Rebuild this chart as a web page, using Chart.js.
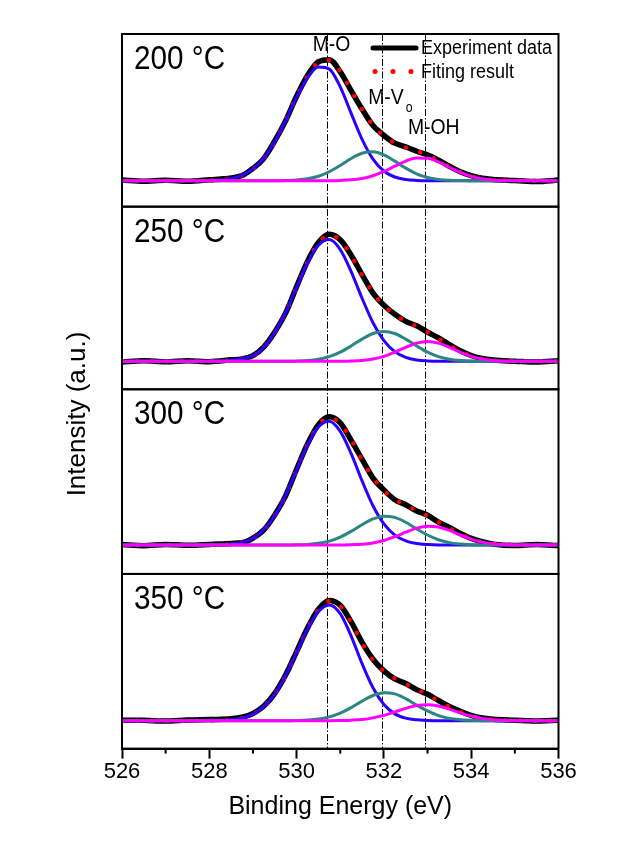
<!DOCTYPE html>
<html lang="en">
<head>
    <meta charset="UTF-8">
    <title>O 1s XPS spectra</title>
    <script src="https://cdn.jsdelivr.net/npm/chart.js"></script>
    <style>
        html, body { margin: 0; padding: 0; background: #fff; }
    </style>
</head>
<body>
    <canvas id="xps" width="617" height="841"></canvas>

    <script>
        // binding energy grid (eV)
        const energy = [526, 526.5, 527, 527.5, 528, 528.5, 528.75, 529, 529.25, 529.5, 529.75, 530, 530.25, 530.5, 530.75, 531, 531.25, 531.5, 531.75, 532, 532.25, 532.5, 532.75, 533, 533.25, 533.5, 533.75, 534, 534.25, 534.5, 535, 535.5, 536];

        const temps = ['200 °C', '250 °C', '300 °C', '350 °C'];

        // 200 C
        const exp200 = [0.8, -0.5, 0.4, -0.6, 0.9, 2.8, 5.2, 12.3, 22.4, 39.8, 60.2, 84.6, 105.4, 119.2, 121.3, 109.1, 90.2, 71.8, 55.2, 45.3, 37.6, 33.9, 29.5, 25.9, 20.6, 14.5, 8.9, 5.1, 2.4, 1.2, 0.3, -0.8, 0.6];
        const fit200 = [0, 0, 0, 0, 0.3, 2.3, 5.5, 11.8, 22.8, 39.2, 60.7, 84.2, 104.9, 118.5, 120.8, 109.6, 90.7, 71.3, 55.6, 44.8, 37.9, 33.5, 29.9, 25.6, 20.1, 13.9, 8.4, 4.3, 1.9, 0.7, 0.1, 0, 0];
        const mo200 = [0, 0, 0, 0, 0.3, 2.3, 5.5, 11.8, 22.8, 39.2, 60.5, 83.5, 103, 114, 111.8, 94, 67.5, 41.5, 21.7, 9.7, 3.7, 1.2, 0.3, 0, 0, 0, 0, 0, 0, 0, 0, 0, 0];
        const mvo200 = [0, 0, 0, 0, 0, 0, 0, 0, 0, 0, 0.2, 0.7, 1.9, 4.5, 9.0, 15.3, 22.3, 27.5, 28.9, 25.8, 19.6, 12.6, 6.9, 3.2, 1.3, 0.4, 0.1, 0, 0, 0, 0, 0, 0];
        const moh200 = [0, 0, 0, 0, 0, 0, 0, 0, 0, 0, 0, 0, 0, 0, 0, 0.3, 0.9, 2.3, 5.0, 9.3, 14.6, 19.7, 22.7, 22.4, 18.8, 13.5, 8.3, 4.3, 1.9, 0.7, 0.1, 0, 0];

        // 250 C
        const exp250 = [-0.6, 0.5, -0.4, 0.7, -0.3, 1.5, 2.5, 5.8, 14.6, 29.5, 48.6, 74.9, 100.2, 119.1, 127.3, 121.8, 106.4, 86.9, 68.4, 56.3, 47.2, 40.1, 35.6, 29.2, 23.5, 16.8, 10.6, 5.9, 2.8, 1.3, 0.2, -0.7, 0.5];
        const fit250 = [0, 0, 0, 0, 0.2, 1.2, 2.8, 5.5, 14, 29, 49.2, 74.3, 99.4, 118.5, 126.7, 121.2, 105.7, 86.4, 68.9, 55.8, 46.8, 40.4, 35.1, 29.6, 23, 16.2, 10, 5.3, 2.3, 0.9, 0.1, 0, 0];
        const mo250 = [0, 0, 0, 0, 0.2, 1.2, 2.8, 5.5, 14, 29, 49.2, 74, 98.6, 116.4, 122, 112, 90, 63.2, 38.7, 20.8, 9.7, 4.0, 1.4, 0.4, 0, 0, 0, 0, 0, 0, 0, 0, 0];
        const mvo250 = [0, 0, 0, 0, 0, 0, 0, 0, 0, 0, 0, 0.3, 0.8, 2.1, 4.7, 9.2, 15.4, 22.3, 27.9, 30, 27.9, 22.3, 15.4, 9.2, 4.7, 2.1, 0.8, 0.3, 0, 0, 0, 0, 0];
        const moh250 = [0, 0, 0, 0, 0, 0, 0, 0, 0, 0, 0, 0, 0, 0, 0, 0, 0.3, 0.9, 2.3, 5.0, 9.2, 14.1, 18.3, 20, 18.3, 14.1, 9.2, 5.0, 2.3, 0.9, 0.1, 0, 0];

        // 300 C
        const exp300 = [0.4, -0.7, 0.6, -0.3, 0.5, 1.6, 2.2, 6.9, 15.1, 30.2, 49.5, 75.9, 101.3, 120.6, 128.4, 122.3, 104.8, 85.9, 67.1, 55.2, 45.4, 40.3, 34.1, 29.8, 22.9, 17.5, 11.6, 6.6, 3.3, 0.9, -0.6, 0.4, -0.5];
        const fit300 = [0, 0, 0, 0, 0.2, 1.1, 2.5, 6.5, 15.5, 29.5, 50, 75.4, 100.8, 120, 127.9, 121.7, 105.4, 85.3, 67.5, 54.5, 45.9, 39.7, 34.5, 29.3, 23.3, 17, 11, 6.2, 2.9, 1.2, 0.1, 0, 0];
        const mo300 = [0, 0, 0, 0, 0.2, 1.1, 2.5, 6.5, 15.5, 29.5, 50, 75.2, 100.2, 118.3, 124, 113.8, 91.5, 64.2, 39.3, 21.1, 9.9, 4.1, 1.4, 0.4, 0, 0, 0, 0, 0, 0, 0, 0, 0];
        const mvo300 = [0, 0, 0, 0, 0, 0, 0, 0, 0, 0, 0, 0.2, 0.6, 1.7, 3.9, 7.9, 13.6, 20.3, 26.1, 28.9, 27.7, 22.8, 16.2, 10, 5.3, 2.4, 1.0, 0.3, 0, 0, 0, 0, 0];
        const moh300 = [0, 0, 0, 0, 0, 0, 0, 0, 0, 0, 0, 0, 0, 0, 0, 0, 0.3, 0.8, 2.1, 4.5, 8.3, 12.8, 16.9, 18.9, 18, 14.6, 10, 5.9, 2.9, 1.2, 0.1, 0, 0];

        // 350 C
        const exp350 = [0.5, 0.3, -0.4, 0.6, 1.1, 1.8, 3.4, 7.2, 14.6, 27.3, 45.9, 69.2, 92.8, 111.6, 120.4, 115.6, 98.9, 78.4, 61.5, 49.9, 41.8, 37.3, 31.1, 26.4, 20.2, 14.1, 9.3, 5.2, 2.6, 1.4, 0.5, -0.3, 0.4];
        const fit350 = [0, 0, 0, 0, 0.2, 1.0, 2.7, 6.6, 14, 26.8, 45.4, 68.6, 92.3, 111, 119.8, 115, 98.3, 77.9, 60.9, 49.4, 42.3, 36.8, 31.5, 25.9, 19.7, 13.8, 8.8, 4.9, 2.3, 1.0, 0.1, 0, 0];
        const mo350 = [0, 0, 0, 0, 0.2, 1.0, 2.7, 6.6, 14, 26.8, 45.4, 68.4, 91.7, 109.4, 116, 107.2, 84.7, 57.1, 32.9, 16.2, 6.8, 2.5, 0.8, 0.2, 0, 0, 0, 0, 0, 0, 0, 0, 0];
        const mvo350 = [0, 0, 0, 0, 0, 0, 0, 0, 0, 0, 0, 0.2, 0.6, 1.6, 3.8, 7.6, 13.1, 19.6, 25.2, 27.9, 26.8, 22, 15.6, 9.7, 5.1, 2.3, 1.0, 0.3, 0, 0, 0, 0, 0];
        const moh350 = [0, 0, 0, 0, 0, 0, 0, 0, 0, 0, 0, 0, 0, 0, 0, 0.2, 0.5, 1.2, 2.8, 5.3, 8.7, 12.3, 15.1, 16, 14.6, 11.5, 7.8, 4.6, 2.3, 1.0, 0.1, 0, 0];

        // peak positions marked by the dash-dot lines
        const refLines = [530.7, 531.95, 532.95];
        const minorTicks = [527, 529, 531, 533, 535];

        // intensity range of each panel (a.u.)
        const panelMin = [-26, -28, -29, -28];
        const panelMax = [147, 155, 156, 147];

        const panels = [
            [exp200, fit200, mo200, mvo200, moh200],
            [exp250, fit250, mo250, mvo250, moh250],
            [exp300, fit300, mo300, mvo300, moh300],
            [exp350, fit350, mo350, mvo350, moh350]
        ];

        const FONT = '"Liberation Sans", Arial, sans-serif';

        const styles = [
            { label: 'Experiment data', color: '#000000', width: 5.5, order: 5 },
            { label: 'Fiting result', color: '#ff0000', width: 4.5, order: 4, dash: [0, 15] },
            { label: 'M-O', color: '#2a00ff', width: 3, order: 3 },
            { label: 'M-Vo', color: '#2b8585', width: 3, order: 2 },
            { label: 'M-OH', color: '#ff00ff', width: 3, order: 1 }
        ];

        const datasets = [];
        panels.forEach((series, p) => {
            series.forEach((values, s) => {
                const st = styles[s];
                datasets.push({
                    label: st.label + ' ' + temps[p],
                    data: energy.map((e, k) => ({ x: e, y: values[k] })),
                    yAxisID: 'y' + p,
                    borderColor: st.color,
                    borderWidth: st.width,
                    borderDash: st.dash || [],
                    borderCapStyle: st.dash ? 'round' : 'butt',
                    borderJoinStyle: 'round',
                    pointRadius: 0,
                    cubicInterpolationMode: 'monotone',
                    fill: false,
                    order: st.order
                });
            });
        });

        const scales = {
            x: {
                type: 'linear',
                position: 'bottom',
                min: 526,
                max: 536,
                ticks: {
                    stepSize: 1,
                    autoSkip: false,
                    maxRotation: 0,
                    padding: 0,
                    color: '#000',
                    font: { family: FONT, size: 22 },
                    callback: v => (v % 2 === 0 ? v : '')
                },
                grid: {
                    drawOnChartArea: false,
                    tickLength: 10,
                    tickWidth: 2,
                    tickColor: ctx => (ctx.tick && ctx.tick.value % 2 === 0 ? '#000' : 'rgba(0,0,0,0)')
                },
                border: { color: '#000', width: 2 },
                title: {
                    display: true,
                    text: 'Binding Energy (eV)',
                    color: '#000',
                    font: { family: FONT, size: 25 },
                    padding: { top: 7, bottom: 0 }
                }
            }
        };
        panels.forEach((_, p) => {
            scales['y' + p] = {
                type: 'linear',
                position: 'left',
                stack: 'panels',
                stackWeight: panelMax[p] - panelMin[p],
                weight: 4 - p,
                min: panelMin[p],
                max: panelMax[p],
                ticks: { display: false },
                grid: { display: false },
                border: { color: '#000', width: 2 }
            };
        });

        function drawText(ctx, text, x, y, size, align, sx) {
            ctx.save();
            ctx.translate(x, y);
            ctx.scale(sx || 0.88, 1);
            ctx.font = size + 'px ' + FONT;
            ctx.fillStyle = '#000';
            ctx.textAlign = align || 'left';
            ctx.textBaseline = 'middle';
            ctx.fillText(text, 0, 0);
            ctx.restore();
        }

        const decorations = {
            id: 'decorations',
            beforeDatasetsDraw(chart) {
                const ctx = chart.ctx;
                const area = chart.chartArea;
                const xs = chart.scales.x;
                ctx.save();
                ctx.strokeStyle = '#000';
                ctx.lineWidth = 1;
                ctx.setLineDash([7, 2, 1.5, 2]);
                refLines.forEach(e => {
                    const x = Math.round(xs.getPixelForValue(e)) + 0.5;
                    ctx.beginPath();
                    ctx.moveTo(x, area.top);
                    ctx.lineTo(x, area.bottom);
                    ctx.stroke();
                });
                ctx.restore();
            },
            afterDatasetsDraw(chart) {
                const ctx = chart.ctx;
                const area = chart.chartArea;
                const xs = chart.scales.x;

                // panel frames
                ctx.save();
                ctx.strokeStyle = '#000';
                ctx.lineWidth = 2;
                panels.forEach((_, p) => {
                    const ys = chart.scales['y' + p];
                    ctx.strokeRect(area.left, ys.top, area.right - area.left, ys.bottom - ys.top);
                });
                // minor ticks
                minorTicks.forEach(e => {
                    const x = xs.getPixelForValue(e);
                    ctx.beginPath();
                    ctx.moveTo(x, area.bottom);
                    ctx.lineTo(x, area.bottom + 5);
                    ctx.stroke();
                });
                ctx.restore();

                // temperature labels
                panels.forEach((_, p) => {
                    const ys = chart.scales['y' + p];
                    drawText(ctx, temps[p], area.left + 12, ys.top + 26, 33, 'left', 0.9);
                });

                // peak labels (top panel)
                const y0 = chart.scales.y0;
                drawText(ctx, 'M-O', xs.getPixelForValue(530.8), y0.getPixelForValue(136), 22, 'center');
                drawText(ctx, 'M-V', xs.getPixelForValue(531.64), y0.getPixelForValue(83), 22, 'left');
                drawText(ctx, 'o', xs.getPixelForValue(532.5), y0.getPixelForValue(73), 14, 'left');
                drawText(ctx, 'M-OH', xs.getPixelForValue(532.55), y0.getPixelForValue(53), 22, 'left');

                // legend
                ctx.save();
                ctx.strokeStyle = '#000';
                ctx.lineWidth = 5;
                ctx.lineCap = 'round';
                ctx.beginPath();
                ctx.moveTo(373, 48);
                ctx.lineTo(416, 48);
                ctx.stroke();
                ctx.fillStyle = '#ff0000';
                [375, 393, 411].forEach(x => {
                    ctx.beginPath();
                    ctx.arc(x, 71.5, 2.5, 0, Math.PI * 2);
                    ctx.fill();
                });
                ctx.restore();
                drawText(ctx, 'Experiment data', 421, 48, 20, 'left', 0.9);
                drawText(ctx, 'Fiting result', 421, 72, 20, 'left', 0.9);

                // y axis title
                ctx.save();
                ctx.translate(78, 414);
                ctx.rotate(-Math.PI / 2);
                ctx.font = '26px ' + FONT;
                ctx.fillStyle = '#000';
                ctx.textAlign = 'center';
                ctx.textBaseline = 'middle';
                ctx.fillText('Intensity (a.u.)', 0, 0);
                ctx.restore();
            }
        };

        new Chart(document.getElementById('xps'), {
            type: 'line',
            data: { datasets: datasets },
            options: {
                responsive: false,
                animation: false,
                layout: { padding: { left: 114, right: 58.5, top: 34, bottom: 19 } },
                plugins: {
                    legend: { display: false },
                    tooltip: { enabled: false }
                },
                scales: scales
            },
            plugins: [decorations]
        });
    </script>
</body>
</html>
